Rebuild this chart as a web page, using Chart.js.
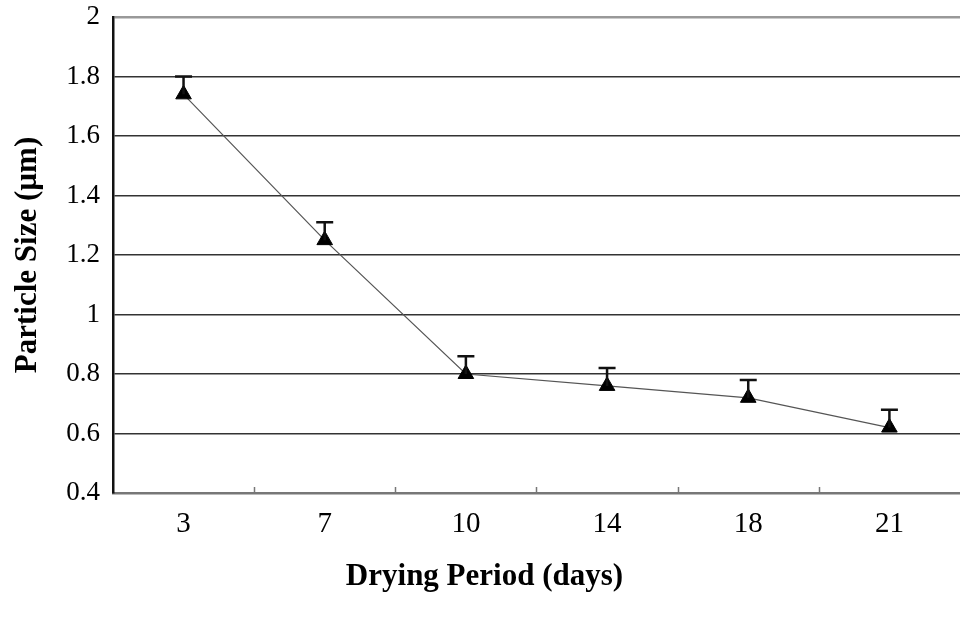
<!DOCTYPE html>
<html>
<head>
<meta charset="utf-8">
<script src="https://cdn.jsdelivr.net/npm/chart.js@4/dist/chart.umd.min.js"></script>
<style>
  html, body { margin: 0; padding: 0; background: #fff; }
  canvas { display: block; }
</style>
</head>
<body>
<canvas id="c" width="960" height="617"></canvas>
<script>
// Drying period (days) and mean particle size (µm)
const dryingDays = ['3', '7', '10', '14', '18', '21'];
const particleSize = [1.74, 1.25, 0.80, 0.76, 0.72, 0.62];
// Upper error (standard deviation), µm
const particleErr = [0.06, 0.06, 0.06, 0.06, 0.06, 0.06];
const yTickMin = 0.4, yTickMax = 2, yTickStep = 0.2;

const serif = "'Liberation Serif', 'Times New Roman', serif";

// Upper-only error whiskers with a flat cap
const errorBars = {
  id: 'errorBars',
  afterDatasetsDraw(chart) {
    const { ctx, scales: { x, y } } = chart;
    ctx.save();
    ctx.strokeStyle = '#111';
    ctx.lineWidth = 2.5;
    particleSize.forEach((v, i) => {
      const px = x.getPixelForValue(i);
      const y0 = y.getPixelForValue(v);
      const y1 = y.getPixelForValue(v + particleErr[i]);
      ctx.beginPath();
      ctx.moveTo(px, y0);
      ctx.lineTo(px, y1);
      ctx.moveTo(px - 8.5, y1);
      ctx.lineTo(px + 8.5, y1);
      ctx.stroke();
    });
    ctx.restore();
  }
};

// Short inward ticks on the category axis, between categories
const innerTicks = {
  id: 'innerTicks',
  afterDraw(chart) {
    const { ctx, scales: { x }, chartArea } = chart;
    ctx.save();
    ctx.strokeStyle = '#777';
    ctx.lineWidth = 1.5;
    for (let i = 0; i < dryingDays.length - 1; i++) {
      const px = Math.round((x.getPixelForValue(i) + x.getPixelForValue(i + 1)) / 2) + 0.5;
      ctx.beginPath();
      ctx.moveTo(px, chartArea.bottom);
      ctx.lineTo(px, chartArea.bottom - 6);
      ctx.stroke();
    }
    ctx.restore();
  }
};

new Chart(document.getElementById('c'), {
  type: 'line',
  data: {
    labels: dryingDays,
    datasets: [{
      data: particleSize,
      borderColor: '#555',
      borderWidth: 1.2,
      pointStyle: 'triangle',
      pointRadius: 9,
      pointBackgroundColor: '#000',
      pointBorderColor: '#000',
      pointBorderWidth: 1,
      tension: 0,
      fill: false
    }]
  },
  options: {
    responsive: false,
    animation: false,
    layout: { autoPadding: false, padding: { left: 9, right: 0, top: 0, bottom: 0 } },
    plugins: {
      legend: { display: false },
      tooltip: { enabled: false },
      title: {
        display: true,
        position: 'bottom',
        text: 'Drying Period (days)',
        color: '#000',
        font: { family: serif, size: 31, weight: 'bold' },
        padding: { top: 3, bottom: 21 }
      }
    },
    scales: {
      x: {
        offset: true,
        grid: { display: false, drawTicks: false },
        border: { display: true, color: '#777', width: 2.5 },
        ticks: {
          color: '#000',
          padding: 14,
          font: { family: serif, size: 29 }
        }
      },
      y: {
        min: yTickMin,
        max: yTickMax,
        afterFit(scale) {
          // room above the top tick label only
          scale.paddingTop = 17;
          scale.paddingBottom = 0;
        },
        grid: {
          drawTicks: false,
          color: ctx => ctx.tick && Math.abs(ctx.tick.value - yTickMax) < 1e-6 ? '#999' : '#333',
          lineWidth: ctx => ctx.tick && Math.abs(ctx.tick.value - yTickMax) < 1e-6 ? 2.5 : 1.5
        },
        border: { display: true, color: '#111', width: 2.5 },
        ticks: {
          stepSize: yTickStep,
          color: '#000',
          padding: 13,
          font: { family: serif, size: 27 },
          callback: v => String(Number(v.toFixed(1)))
        },
        title: {
          display: true,
          text: 'Particle Size (µm)',
          color: '#000',
          font: { family: serif, size: 31, weight: 'bold' },
          padding: { top: 0, bottom: 7 }
        }
      }
    }
  },
  plugins: [errorBars, innerTicks]
});
</script>
</body>
</html>
